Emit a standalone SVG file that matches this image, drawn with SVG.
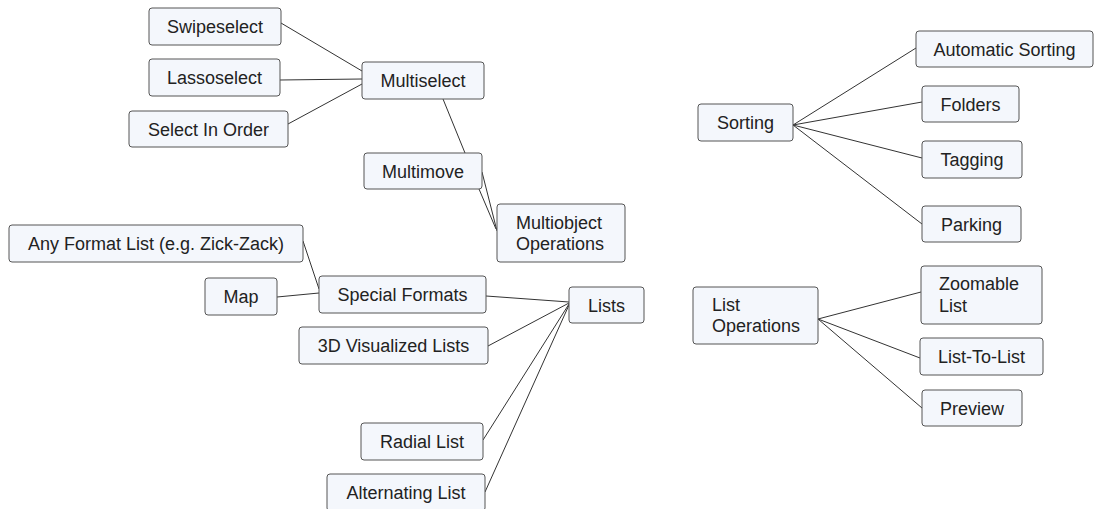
<svg xmlns="http://www.w3.org/2000/svg" width="1094" height="509" viewBox="0 0 1094 509">
  <style>
    .box { fill: #f4f7fc; stroke: #555; stroke-width: 1; }
    .lbl { font-family: "Liberation Sans", Arial, sans-serif; font-size: 18px; fill: #222; }
    .c { text-anchor: middle; }
    .edge { stroke: #333; stroke-width: 1; fill: none; }
  </style>
  <rect width="1094" height="509" fill="#ffffff"/>

  <!-- connectors -->
  <g id="connectors">
    <line class="edge" x1="281" y1="23" x2="362" y2="71"/>
    <line class="edge" x1="280" y1="80" x2="362" y2="79"/>
    <line class="edge" x1="288" y1="124" x2="362" y2="84"/>
    <line class="edge" x1="443" y1="99" x2="465" y2="153"/>
    <line class="edge" x1="482" y1="172" x2="497" y2="231"/>
    <line class="edge" x1="479" y1="189" x2="496" y2="229"/>
    <line class="edge" x1="303" y1="241" x2="319" y2="289"/>
    <line class="edge" x1="277" y1="297" x2="319" y2="293"/>
    <line class="edge" x1="486" y1="296" x2="569" y2="302"/>
    <line class="edge" x1="488" y1="346" x2="569" y2="303"/>
    <line class="edge" x1="483" y1="440" x2="569" y2="304"/>
    <line class="edge" x1="485" y1="492" x2="569" y2="305"/>
    <line class="edge" x1="793" y1="125" x2="916" y2="48"/>
    <line class="edge" x1="793" y1="125" x2="922" y2="102"/>
    <line class="edge" x1="793" y1="125" x2="922" y2="158"/>
    <line class="edge" x1="793" y1="125" x2="922" y2="224"/>
    <line class="edge" x1="818" y1="319" x2="921" y2="292"/>
    <line class="edge" x1="818" y1="319" x2="920" y2="358"/>
    <line class="edge" x1="818" y1="319" x2="922" y2="408"/>
  </g>

  <!-- multiselect branch -->
  <g id="swipeselect">
    <rect class="box" x="149" y="8" width="132" height="37" rx="3"/>
    <text class="lbl c" x="215" y="33">Swipeselect</text>
  </g>
  <g id="lassoselect">
    <rect class="box" x="149" y="59" width="131" height="37" rx="3"/>
    <text class="lbl c" x="214.5" y="84">Lassoselect</text>
  </g>
  <g id="select-in-order">
    <rect class="box" x="129" y="111" width="159" height="36" rx="3"/>
    <text class="lbl c" x="208.5" y="135.5">Select In Order</text>
  </g>
  <g id="multiselect">
    <rect class="box" x="362" y="62" width="122" height="37" rx="3"/>
    <text class="lbl c" x="423" y="87">Multiselect</text>
  </g>
  <g id="multimove">
    <rect class="box" x="364" y="153" width="118" height="36" rx="3"/>
    <text class="lbl c" x="423" y="177.5">Multimove</text>
  </g>
  <g id="multiobject-operations">
    <rect class="box" x="497" y="204" width="128" height="58" rx="3"/>
    <text class="lbl" x="516" y="229">Multiobject</text>
    <text class="lbl" x="516" y="250">Operations</text>
  </g>

  <!-- lists branch -->
  <g id="any-format-list">
    <rect class="box" x="9" y="225" width="294" height="37" rx="3"/>
    <text class="lbl c" x="156" y="250">Any Format List (e.g. Zick-Zack)</text>
  </g>
  <g id="map">
    <rect class="box" x="205" y="278" width="72" height="37" rx="3"/>
    <text class="lbl c" x="241" y="303">Map</text>
  </g>
  <g id="special-formats">
    <rect class="box" x="319" y="276" width="167" height="37" rx="3"/>
    <text class="lbl c" x="402.5" y="301">Special Formats</text>
  </g>
  <g id="lists">
    <rect class="box" x="569" y="287" width="75" height="36" rx="3"/>
    <text class="lbl c" x="606.5" y="311.5">Lists</text>
  </g>
  <g id="visualized-3d-lists">
    <rect class="box" x="299" y="327" width="189" height="37" rx="3"/>
    <text class="lbl c" x="393.5" y="352">3D Visualized Lists</text>
  </g>
  <g id="radial-list">
    <rect class="box" x="361" y="423" width="122" height="37" rx="3"/>
    <text class="lbl c" x="422" y="448">Radial List</text>
  </g>
  <g id="alternating-list">
    <rect class="box" x="327" y="474" width="158" height="37" rx="3"/>
    <text class="lbl c" x="406" y="499">Alternating List</text>
  </g>

  <!-- sorting branch -->
  <g id="sorting">
    <rect class="box" x="698" y="104" width="95" height="37" rx="3"/>
    <text class="lbl c" x="745.5" y="129">Sorting</text>
  </g>
  <g id="automatic-sorting">
    <rect class="box" x="916" y="31" width="177" height="36" rx="3"/>
    <text class="lbl c" x="1004.5" y="55.5">Automatic Sorting</text>
  </g>
  <g id="folders">
    <rect class="box" x="922" y="86" width="97" height="36" rx="3"/>
    <text class="lbl c" x="970.5" y="110.5">Folders</text>
  </g>
  <g id="tagging">
    <rect class="box" x="922" y="141" width="100" height="37" rx="3"/>
    <text class="lbl c" x="972" y="166">Tagging</text>
  </g>
  <g id="parking">
    <rect class="box" x="922" y="206" width="99" height="36" rx="3"/>
    <text class="lbl c" x="971.5" y="230.5">Parking</text>
  </g>

  <!-- list operations branch -->
  <g id="list-operations">
    <rect class="box" x="693" y="287" width="125" height="57" rx="3"/>
    <text class="lbl" x="712" y="311">List</text>
    <text class="lbl" x="712" y="332">Operations</text>
  </g>
  <g id="zoomable-list">
    <rect class="box" x="921" y="266" width="121" height="58" rx="3"/>
    <text class="lbl" x="939" y="290">Zoomable</text>
    <text class="lbl" x="939" y="312">List</text>
  </g>
  <g id="list-to-list">
    <rect class="box" x="920" y="338" width="123" height="37" rx="3"/>
    <text class="lbl c" x="981.5" y="363">List-To-List</text>
  </g>
  <g id="preview">
    <rect class="box" x="922" y="390" width="100" height="36" rx="3"/>
    <text class="lbl c" x="972" y="414.5">Preview</text>
  </g>
</svg>
